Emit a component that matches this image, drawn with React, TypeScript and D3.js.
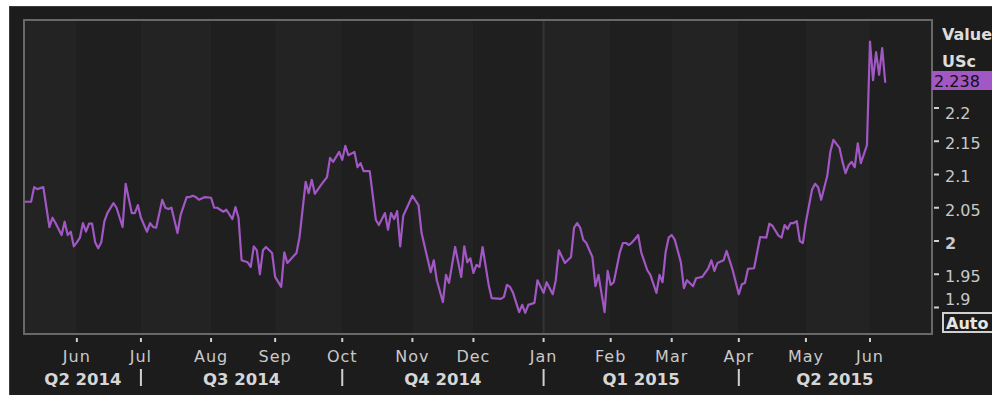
import React from "react";
import * as d3 from "d3";

// Trading-day index counted from 2014-05-08 (weekdays only)
const tradingDay = [
  0, 2, 3, 4, 6, 8, 9, 10, 12, 13, 14, 15, 16, 17, 18, 19, 20, 21, 22, 23, 24, 25, 26, 27, 29, 30,
  32, 33, 35, 36, 37, 38, 40, 41, 42, 43, 45, 46, 47, 48, 50, 51, 53, 54, 55, 56, 57, 59, 61, 62,
  63, 65, 66, 68, 69, 70, 71, 73, 74, 75, 76, 77, 78, 79, 81, 82, 84, 85, 86, 88, 89, 90, 92, 93,
  94, 95, 97, 99, 100, 101, 103, 104, 105, 106, 108, 109, 110, 111, 113, 115, 116, 118, 119, 120,
  121, 122, 123, 124, 127, 129, 130, 133, 134, 135, 137, 138, 139, 141, 143, 144, 145, 146, 147,
  148, 149, 150, 152, 153, 156, 157, 158, 159, 160, 162, 163, 164, 165, 167, 168, 170, 171, 173,
  174, 175, 177, 179, 180, 181, 182, 183, 184, 186, 187, 188, 190, 191, 192, 193, 195, 196, 197,
  198, 199, 200, 201, 202, 204, 205, 207, 208, 209, 210, 211, 212, 213, 215, 216, 217, 219, 220,
  222, 224, 225, 226, 227, 229, 230, 232, 234, 235, 236, 237, 239, 241, 243, 244, 245, 247, 248,
  249, 250, 251, 252, 253, 254, 255, 256, 258, 259, 260, 261, 263, 264, 265, 267, 268, 269, 270,
  271, 272, 273, 274, 276, 277, 278, 279, 280, 281, 282,
];

const valueUSc = [
  2.059, 2.059, 2.081, 2.078, 2.081, 2.021, 2.035, 2.027, 2.009, 2.029, 2.009, 2.014, 1.992, 1.998,
  2.005, 2.027, 2.014, 2.026, 2.026, 1.998, 1.989, 1.998, 2.029, 2.042, 2.057, 2.05,
  2.021, 2.086, 2.042, 2.042, 2.054, 2.035, 2.014, 2.027, 2.021, 2.02, 2.062, 2.05, 2.048, 2.05,
  2.012, 2.039, 2.066, 2.066, 2.068, 2.066, 2.062, 2.066, 2.065, 2.05,
  2.05, 2.044, 2.047, 2.033, 2.051, 2.035, 1.971, 1.968, 1.961, 1.992, 1.986, 1.95, 1.986, 1.991,
  1.982, 1.946, 1.931, 1.983, 1.967, 1.977, 1.982, 2.006, 2.089, 2.072,
  2.092, 2.071, 2.084, 2.096, 2.125, 2.119, 2.134, 2.122, 2.143, 2.129, 2.134, 2.111, 2.117, 2.105,
  2.105, 2.032, 2.024, 2.042, 2.017, 2.042,
  2.033, 2.045, 1.992, 2.038, 2.068, 2.054, 2.012, 1.953, 1.971, 1.941, 1.908, 1.949, 1.937, 1.991,
  1.946, 1.992, 1.968, 1.974, 1.952,
  1.964, 1.961, 1.991, 1.934, 1.914, 1.913, 1.916, 1.934, 1.931, 1.922, 1.893, 1.904, 1.892, 1.904,
  1.907, 1.941, 1.922, 1.938, 1.92,
  1.941, 1.986, 1.967, 1.976, 2.02, 2.027, 2.02, 2.002, 1.997, 1.976, 1.932, 1.949, 1.893, 1.955,
  1.934, 1.938, 1.983, 1.997, 1.997,
  1.994, 1.998, 2.003, 2.009, 1.983, 1.956, 1.949, 1.922, 1.949, 1.938, 1.983, 2.005, 2.009, 2.002,
  1.968, 1.929, 1.941, 1.932, 1.944,
  1.946, 1.959, 1.971, 1.955, 1.967, 1.971, 1.985, 1.956, 1.92, 1.935, 1.937, 1.958, 1.959, 2.006,
  2.005, 2.026, 2.023, 2.008, 2.005,
  2.024, 2.018, 2.027, 2.027, 2.03, 2.0, 1.997, 2.029, 2.077, 2.086, 2.081, 2.062, 2.098, 2.134,
  2.152, 2.14, 2.119, 2.102, 2.114,
  2.119, 2.111, 2.147, 2.117, 2.144, 2.3, 2.242, 2.284, 2.25, 2.29, 2.238,
];

const yTicks = [1.9, 1.95, 2, 2.05, 2.1, 2.15, 2.2];
const lastValueLabel = "2.238";
const monthNames = ["Jan", "Feb", "Mar", "Apr", "May", "Jun", "Jul", "Aug", "Sep", "Oct", "Nov", "Dec"];
const startDate = new Date(2014, 4, 8);
const dayCount = 297;

const W = 992;
const H = 395;
const PL = 25, PR = 931, PT = 21, PB = 333;
const FONT = "'DejaVu Sans', Verdana, sans-serif";

function buildCalendar() {
  const days: Date[] = [];
  const d = new Date(startDate);
  while (days.length <= dayCount) {
    const wd = d.getDay();
    if (wd !== 0 && wd !== 6) days.push(new Date(d));
    d.setDate(d.getDate() + 1);
  }
  const monthStarts: { idx: number; month: number; year: number }[] = [];
  for (let i = 1; i < days.length; i++) {
    if (days[i].getMonth() !== days[i - 1].getMonth()) {
      monthStarts.push({ idx: i, month: days[i].getMonth(), year: days[i].getFullYear() });
    }
  }
  return { days, monthStarts };
}

export default function App() {
  const x = d3.scaleLinear().domain([0, dayCount]).range([PL, PR]);
  const y = d3.scaleLinear().domain([2, 2.2]).range([241, 108]);
  const { monthStarts } = buildCalendar();

  const data = tradingDay.map((t, i) => [t, valueUSc[i]] as [number, number]);
  const line = d3
    .line<[number, number]>()
    .x((d) => x(d[0]))
    .y((d) => y(d[1]))
    .curve(d3.curveLinear);

  // month bands
  const bounds = [{ idx: 0, month: 4, year: 2014 }, ...monthStarts];
  const bands = bounds.map((b, i) => {
    const x0 = x(b.idx);
    const x1 = i + 1 < bounds.length ? x(bounds[i + 1].idx) : PR;
    return { x0, x1, dark: b.month % 2 === 1 };
  });

  // quarters
  const qStarts = monthStarts.filter((m) => m.month % 3 === 0);
  const qEdges = [PL, ...qStarts.map((q) => x(q.idx)), PR];
  const qLabels: { cx: number; text: string }[] = [];
  const firstQ = { month: 3, year: 2014 };
  const qList = [firstQ, ...qStarts];
  for (let i = 0; i < qEdges.length - 1; i++) {
    const q = qList[i];
    qLabels.push({
      cx: (qEdges[i] + qEdges[i + 1]) / 2,
      text: `Q${Math.floor(q.month / 3) + 1} ${q.year}`,
    });
  }
  const yearLine = monthStarts.find((m) => m.month === 0);

  // right axis label placement with collision avoidance
  const boxTop = 71, boxBottom = 90, autoTop = 313;
  const tickLabels = yTicks.map((v) => {
    let cy = y(v) + 2;
    if (cy - 8 < boxBottom + 15) cy = boxBottom + 15 + 8;
    if (cy + 8 > autoTop - 6) cy = autoTop - 6 - 8;
    return { v, ty: y(v), cy };
  });

  const labelColor = "#c9c9c9";

  return (
    <svg
      width={W}
      height={H}
      style={{ position: "absolute", left: 0, top: 0, display: "block" }}
      fontFamily={FONT}
    >
      <defs>
        <clipPath id="plotClip">
          <rect x={PL} y={PT} width={PR - PL} height={PB - PT} />
        </clipPath>
      </defs>
      <rect x={0} y={0} width={W} height={H} fill="#ffffff" />
      <rect x={9} y={6} width={W - 9} height={H - 6} fill="#1c1c1c" />
      <line x1={9} y1={6.5} x2={W} y2={6.5} stroke="#3c3c3c" strokeWidth={1} />
      <line x1={9.5} y1={6} x2={9.5} y2={H} stroke="#3c3c3c" strokeWidth={1} />

      {/* plot background bands */}
      <g>
        {bands.map((b, i) => (
          <rect
            key={i}
            x={b.x0}
            y={PT}
            width={Math.max(0, b.x1 - b.x0)}
            height={PB - PT}
            fill={b.dark ? "#1f1f1f" : "#232323"}
          />
        ))}
      </g>
      {yearLine && (
        <line
          x1={x(yearLine.idx)}
          x2={x(yearLine.idx)}
          y1={PT}
          y2={PB}
          stroke="#353535"
          strokeWidth={2}
        />
      )}
      <rect
        x={PL - 1}
        y={PT - 1}
        width={PR - PL + 2}
        height={PB - PT + 2}
        fill="none"
        stroke="#686868"
        strokeWidth={2}
      />

      <path
        d={line(data) || ""}
        fill="none"
        stroke="#a157c4"
        strokeWidth={2.2}
        strokeLinejoin="round"
        clipPath="url(#plotClip)"
      />

      {/* bottom axis */}
      <g>
        {monthStarts.map((m, i) => (
          <g key={i}>
            <rect x={x(m.idx) - 1} y={338} width={2} height={4} fill="#d0d0d0" />
            <text
              x={x(m.idx)}
              y={362}
              textAnchor="middle"
              fontSize={16}
              letterSpacing={1}
              fill={labelColor}
            >
              {monthNames[m.month]}
            </text>
          </g>
        ))}
        {qStarts.map((q, i) => (
          <rect key={i} x={x(q.idx) - 1} y={369} width={2} height={17} fill="#d0d0d0" />
        ))}
        {qLabels.map((q, i) => (
          <text
            key={i}
            x={q.cx}
            y={385}
            textAnchor="middle"
            fontSize={16.5}
            fontWeight="bold"
            fill="#d6d6d6"
          >
            {q.text}
          </text>
        ))}
      </g>

      {/* right axis */}
      <g>
        <text x={942} y={40} fontSize={16} fontWeight="bold" fill="#dcdcdc">
          Value
        </text>
        <text x={942} y={67} fontSize={16} fontWeight="bold" fill="#dcdcdc">
          USc
        </text>
        <rect x={932} y={boxTop} width={60} height={boxBottom - boxTop} fill="#a157c4" />
        <text x={934} y={87} fontSize={16} fill="#111111">
          {lastValueLabel}
        </text>
        {tickLabels.map((t, i) => (
          <g key={i}>
            <rect x={934} y={t.ty - 1} width={5} height={2} fill="#d0d0d0" />
            <text
              x={945}
              y={t.cy}
              dy="0.36em"
              fontSize={16}
              fontWeight={t.v === 2 ? "bold" : "normal"}
              fill={labelColor}
            >
              {d3.format("")(t.v)}
            </text>
          </g>
        ))}
        <rect
          x={943}
          y={autoTop}
          width={52}
          height={19}
          fill="none"
          stroke="#d0d0d0"
          strokeWidth={2}
        />
        <text x={946} y={329} fontSize={16} fontWeight="bold" fill="#e6e6e6">
          Auto
        </text>
      </g>
    </svg>
  );
}
